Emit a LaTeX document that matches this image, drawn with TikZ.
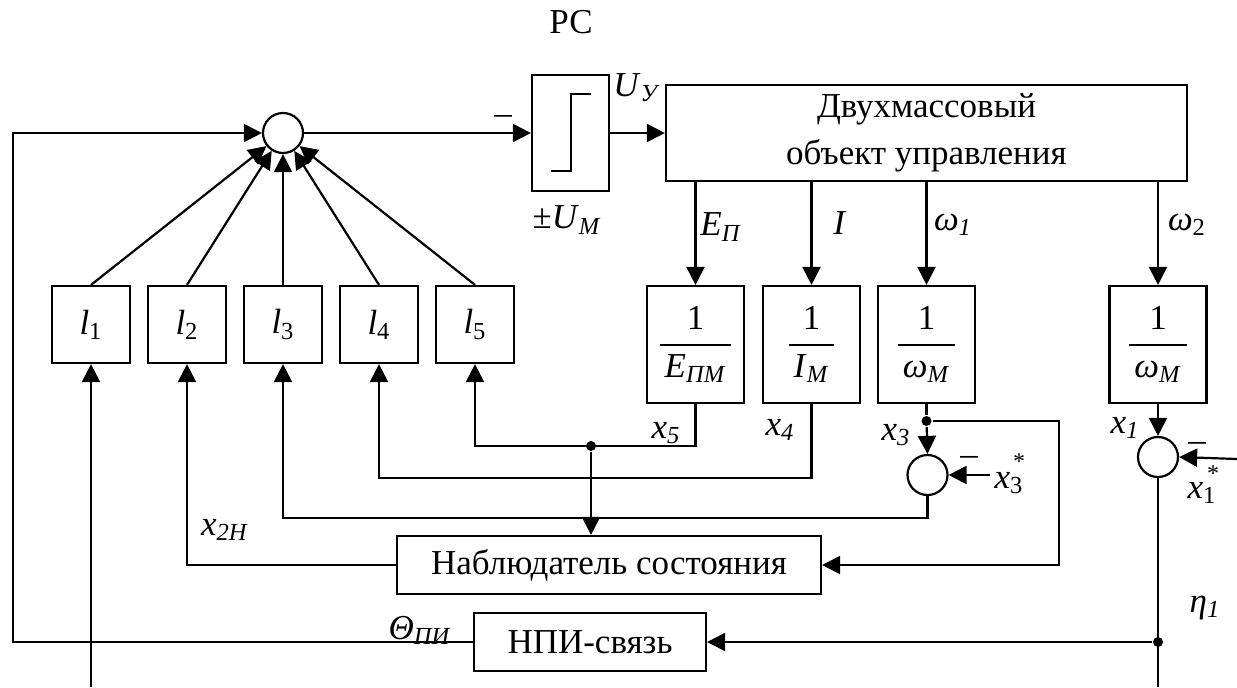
\documentclass[tikz,border=0pt]{standalone}
\usepackage{fontspec}
\setmainfont{Liberation Serif}
\usetikzlibrary{positioning,shapes,arrows.meta}
\newcommand{\kfr}[1]{$\displaystyle{\mbox{1}\above 1pt\mbox{\hspace{2.5pt}#1\hspace{2.5pt}}}$}

\begin{document}
\begin{tikzpicture}[-{Triangle[length=9pt,width=9pt]}, x=0.5pt, y=-0.5pt, line width=1.1pt,
    font=\fontsize{17.5}{21}\selectfont,
    blk/.style = {draw, rectangle, inner sep=0pt},
    lbox/.style = {blk, minimum width=39pt, minimum height=38.5pt},
    kbox/.style = {blk, minimum width=48.5pt, minimum height=58.5pt},
    sumc/.style = {draw, circle, inner sep=0pt, minimum size=20pt},
    lab/.style = {inner sep=0pt},
    star/.style = {inner sep=0pt, font=\fontsize{12}{12}\selectfont},
    dot/.style = {circle, fill, inner sep=0pt, minimum size=5pt}]
    \useasboundingbox (0,0) rectangle (1237,687);

    % regulator
    \node[lab] (pc) at (571,22) {РС};
    \node[sumc] (sum) at (283,133) {};
    \node[blk, minimum width=38.5pt, minimum height=58pt] (relay) at (570.5,133) {};
    \draw[-] ([shift={(-19.5,38)}]relay.center) -- ([shift={(0.5,38)}]relay.center)
        -- ([shift={(0.5,-39)}]relay.center) -- ([shift={(20.5,-39)}]relay.center);
    \node[blk, minimum width=260.5pt, minimum height=48pt, align=center,
        font=\fontsize{17.5}{23.5}\selectfont] (obj) at (926.5,133) {Двухмассовый\\объект управления};

    \node[lbox] (l1) at (91,324.5) {\textit{l}\textsubscript{1}};
    \node[lbox] (l2) at (187,324.5) {\textit{l}\textsubscript{2}};
    \node[lbox] (l3) at (283,324.5) {\textit{l}\textsubscript{3}};
    \node[lbox] (l4) at (379,324.5) {\textit{l}\textsubscript{4}};
    \node[lbox] (l5) at (475,324.5) {\textit{l}\textsubscript{5}};

    \node[kbox] (kE) at (695.5,344.5) {\kfr{\textit{E}\textsubscript{\textit{ПМ}}}};
    \node[kbox] (kI) at (811.5,344.5) {\kfr{\textit{I}\textsubscript{\textit{М}}}};
    \node[kbox] (kw1) at (926.5,344.5) {\kfr{\textit{ω}\textsubscript{\textit{М}}}};
    \node[kbox] (kw2) at (1158,344.5) {\kfr{\textit{ω}\textsubscript{\textit{М}}}};

    \node[sumc] (s3) at (927.5,475) {};
    \node[sumc] (s1) at (1158,457) {};
    \node[blk, minimum width=212pt, minimum height=29pt] (obs) at (609,565) {Наблюдатель состояния};
    \node[blk, minimum width=116pt, minimum height=29pt] (npi) at (590,642) {НПИ-связь};

    % labels
    \node[lab] (mu) at (503,120) {–};
    \node[lab] (uy) at (637,88) {\textit{U}\textsubscript{\textit{У}}};
    \node[lab] (um) at (567,220) {±\textit{U}\textsubscript{\textit{М}}};
    \node[lab] (ep) at (721,227) {\textit{E}\textsubscript{\textit{П}}};
    \node[lab] (ii) at (840,223) {\textit{I}};
    \node[lab] (w1) at (953,225) {\textit{ω}\textsubscript{\textit{1}}};
    \node[lab] (w2) at (1187,225) {\textit{ω}\textsubscript{2}};
    \node[lab] (x5) at (666,433) {\textit{x}\textsubscript{\textit{5}}};
    \node[lab] (x4) at (780,430) {\textit{x}\textsubscript{\textit{4}}};
    \node[lab] (x3) at (896,435) {\textit{x}\textsubscript{\textit{3}}};
    \node[lab] (x1) at (1125,428) {\textit{x}\textsubscript{\textit{1}}};
    \node[lab] (x3s) at (1009,483) {\textit{x}\textsubscript{3}};
    \node[star] (st3) at (1019,462) {*};
    \node[lab] (x1s) at (1202,493) {\textit{x}\textsubscript{1}};
    \node[star] (st1) at (1213,474) {*};
    \node[lab] (m3) at (969,461) {–};
    \node[lab] (m1) at (1197,447) {–};
    \node[lab] (x2h) at (225,530) {\textit{x}\textsubscript{\textit{2Н}}};
    \node[lab] (th) at (420,630) {\textit{Θ}\textsubscript{\textit{ПИ}}};
    \node[lab] (eta) at (1205,608) {\textit{η}\textsubscript{\textit{1}}};

    % forward path
    \coordinate (ct) at (13,133);
    \coordinate (cl) at (13,642);
    \draw (npi.west) -- (cl) -- (ct) -- (sum.west);
    \draw (sum.east) -- (relay.west);
    \draw (relay.east) -- (obj.west);
    \draw (l1.north) -- (sum);
    \draw (l2.north) -- (sum);
    \draw (l3.north) -- (sum);
    \draw (l4.north) -- (sum);
    \draw (l5.north) -- (sum);

    \draw (obj.south -| kE.north) -- (kE.north);
    \draw (obj.south -| kI.north) -- (kI.north);
    \draw (obj.south -| kw1.north) -- (kw1.north);
    \draw (obj.south -| kw2.north) -- (kw2.north);

    % state feedback
    \coordinate (e5) at (695.5,446);
    \coordinate (e4) at (811.5,478);
    \coordinate (e3) at (927.5,518);
    \node[dot] (j5) at (591,446) {};
    \node[dot] (j3) at (926.5,421) {};
    \node[dot] (jn) at (1158,642) {};
    \coordinate (c3) at (1059,421);
    \coordinate (x3in) at (990,475);
    \coordinate (x1in) at (1237,459);
    \coordinate (b1) at (91,687);
    \coordinate (bn) at (1158,687);

    \draw (kE.south) -- (e5) -| (l5.south);
    \draw (j5) -- (j5 |- obs.north);
    \draw (kI.south) -- (e4) -| (l4.south);
    \draw[-] (kw1.south) -- (j3);
    \draw (j3) -- (s3.north);
    \draw (j3) -- (c3) |- (obs.east);
    \draw (x3in) -- (s3.east);
    \draw (s3.south) -- (e3) -| (l3.south);
    \draw (obs.west) -| (l2.south);
    \draw (b1) -- (l1.south);
    \draw (kw2.south) -- (s1.north);
    \draw (x1in) -- (s1.east);
    \draw[-] (s1.south) -- (bn);
    \draw (jn) -- (npi.east);
\end{tikzpicture}
\end{document}
